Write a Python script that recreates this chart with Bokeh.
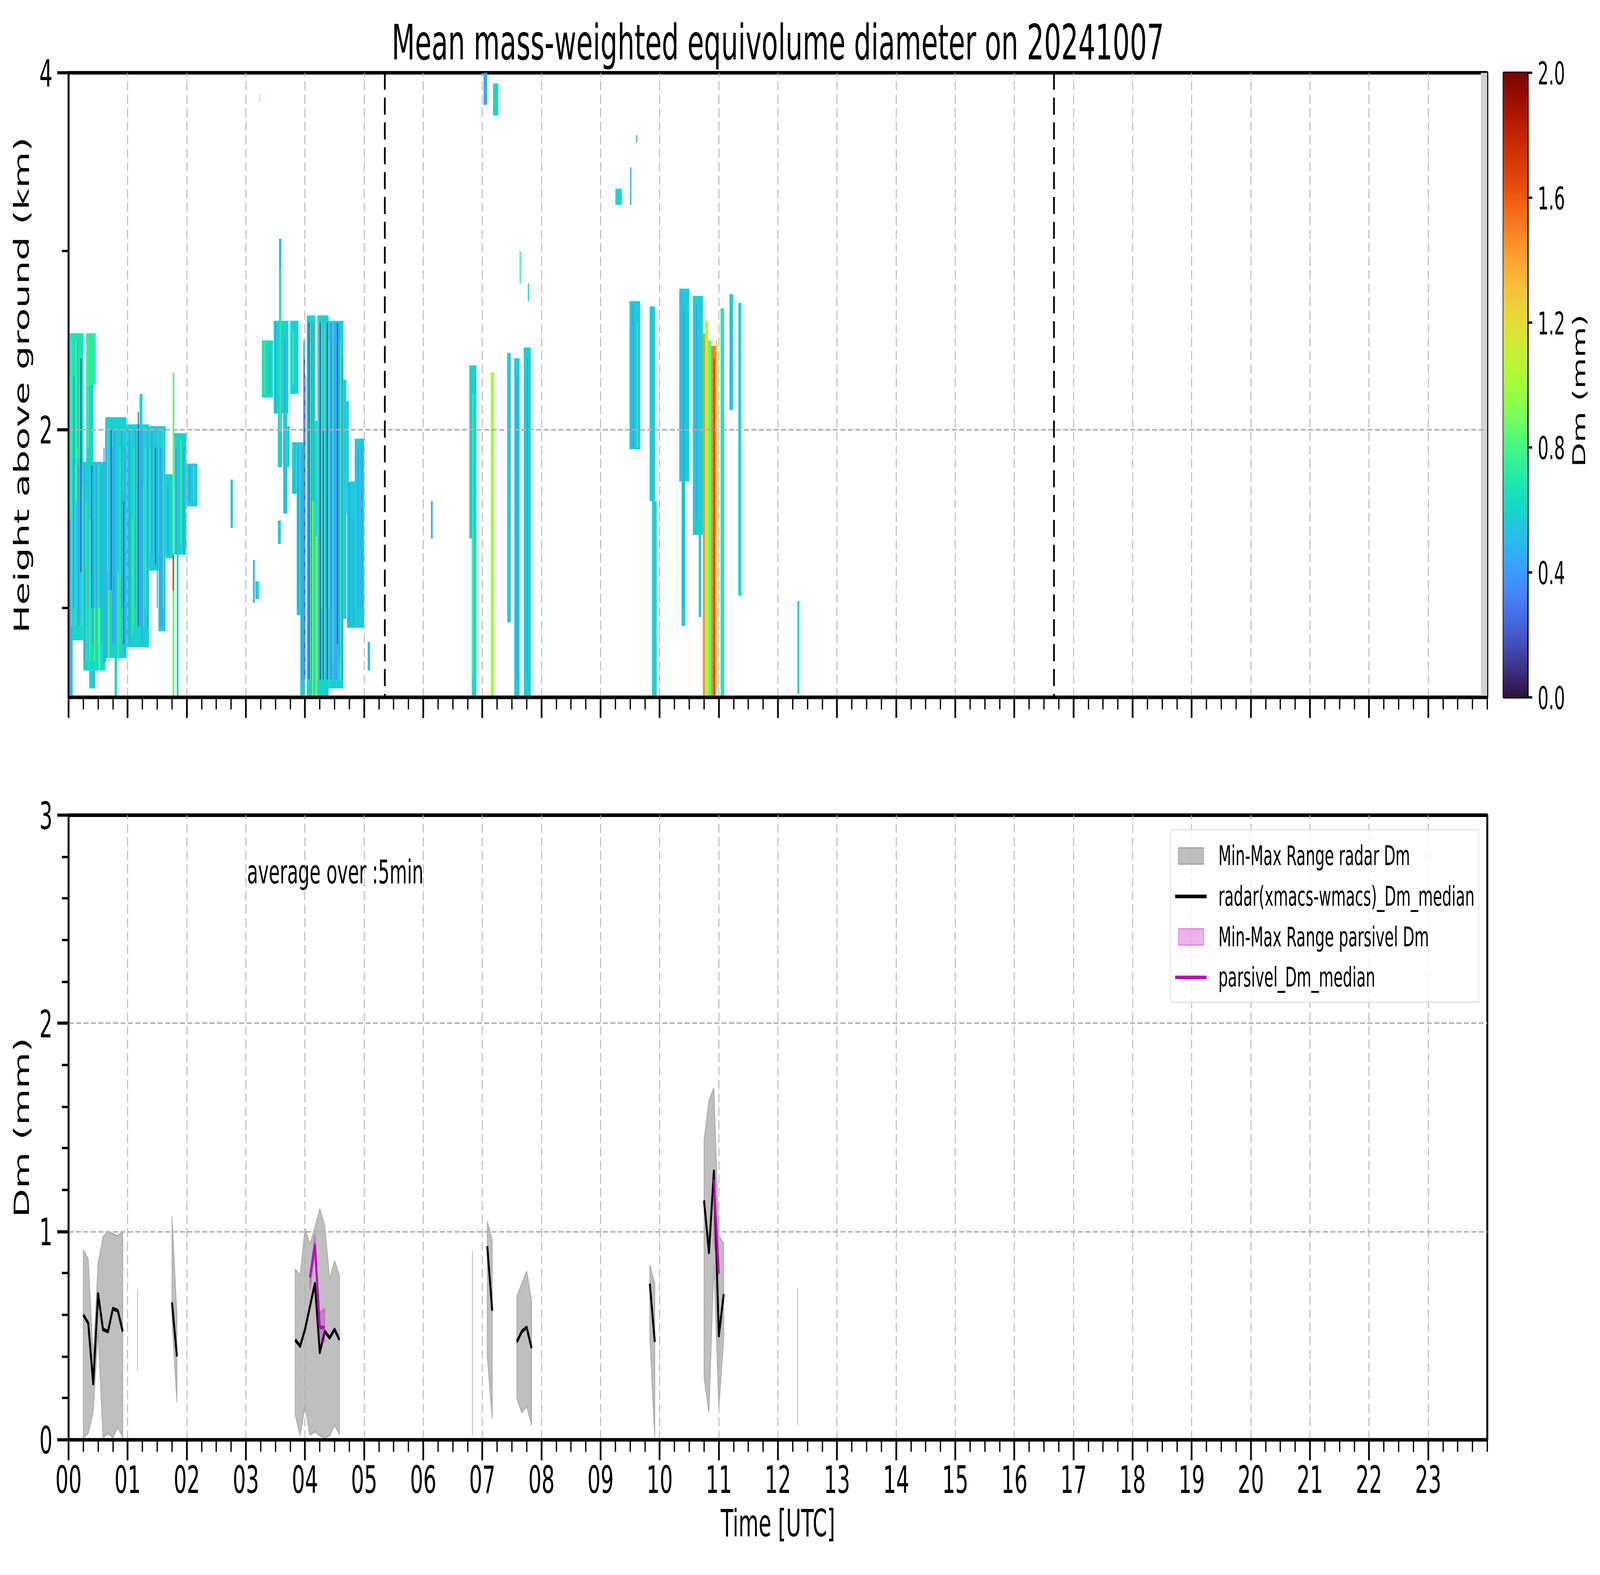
import math
import numpy as np
from bokeh.plotting import figure
from bokeh.layouts import column, row
from bokeh.models import (ColumnDataSource, FixedTicker, Span, Label, Legend,
                          LegendItem, Range1d, PrintfTickFormatter)
from bokeh.palettes import Turbo256
from bokeh.transform import linear_cmap
from bokeh.core.properties import value
from bokeh.embed import file_html
from bokeh.resources import INLINE

nan = float("nan")

# ---------------------------------------------------------------- texts
title_text = "Mean mass-weighted equivolume diameter on 20241007"
top_ylabel = "Height above ground (km)"
bottom_ylabel = "Dm (mm)"
bottom_xlabel = "Time [UTC]"
cbar_label = "Dm (mm)"
note_text = "average over :5min"
legend_labels = ["Min-Max Range radar Dm", "radar(xmacs-wmacs)_Dm_median",
                 "Min-Max Range parsivel Dm", "parsivel_Dm_median"]
hour_labels = ["00", "01", "02", "03", "04", "05", "06", "07", "08", "09", "10", "11",
               "12", "13", "14", "15", "16", "17", "18", "19", "20", "21", "22", "23"]
cbar_ticks = [0.0, 0.4, 0.8, 1.2, 1.6, 2.0]

# ---------------------------------------------------------------- top panel: radar Dm (time [h], height [km], Dm [mm])
echo_start = [0.02, 0.02, 0.02, 0.07, 0.30, 0.30, 0.25, 0.25, 0.35, 0.62, 0.78, 0.98, 1.20, 1.36, 1.52,
              1.64, 1.76, 1.79, 1.83, 1.99, 2.74,
              3.12, 3.16, 3.27, 3.47, 3.56, 3.54, 3.63, 3.54, 3.75, 3.70, 3.78, 3.86, 3.92, 3.97,
              4.03, 4.17, 4.21, 4.40, 4.65, 4.70, 4.71, 4.84, 5.06, 3.23,
              6.13, 6.78, 6.82, 7.02, 7.18, 7.14, 7.42, 7.54, 7.70, 7.63, 7.77,
              9.25, 9.50, 9.60, 9.49, 9.83, 9.87, 10.33, 10.37, 10.56, 10.66,
              10.73, 10.77, 10.82, 10.87, 10.95, 11.03, 11.18, 11.33, 12.33]
echo_end = [0.25, 0.25, 0.07, 0.25, 0.46, 0.42, 0.62, 0.62, 0.45, 0.98, 0.82, 1.36, 1.25, 1.52, 1.64,
            1.76, 1.79, 1.99, 1.86, 2.18, 2.78,
            3.15, 3.22, 3.46, 3.72, 3.60, 3.61, 3.70, 3.59, 3.89, 3.74, 3.86, 3.92, 4.00, 4.00,
            4.17, 4.21, 4.40, 4.65, 4.70, 4.74, 4.84, 5.00, 5.10, 3.24,
            6.16, 6.90, 6.90, 7.08, 7.27, 7.20, 7.48, 7.63, 7.82, 7.65, 7.79,
            9.36, 9.52, 9.62, 9.67, 9.92, 9.95, 10.50, 10.43, 10.73, 10.70,
            10.77, 10.82, 10.87, 10.95, 10.97, 11.09, 11.24, 11.38, 12.36]
echo_base = [1.84, 0.95, 0.50, 0.82, 2.25, 1.82, 1.00, 0.65, 0.55, 0.72, 0.51, 0.78, 2.03, 1.21, 0.87,
             1.28, 0.51, 1.30, 0.51, 1.57, 1.45,
             1.03, 1.05, 2.18, 2.09, 2.61, 1.79, 1.53, 1.36, 2.20, 1.79, 1.64, 0.96, 0.51, 1.93,
             0.51, 0.51, 0.51, 0.55, 0.94, 1.53, 0.89, 0.89, 0.65, 3.84,
             1.39, 1.39, 0.51, 3.82, 3.76, 0.51, 0.92, 0.51, 0.51, 2.82, 2.72,
             3.26, 3.26, 3.61, 1.89, 1.60, 0.51, 1.71, 0.90, 1.41, 0.95,
             0.51, 0.51, 0.51, 0.51, 0.55, 0.51, 2.11, 1.07, 0.52]
echo_top = [2.54, 1.84, 0.95, 0.95, 2.54, 2.25, 1.82, 1.00, 0.65, 2.07, 0.72, 2.03, 2.20, 2.02, 2.02,
            1.75, 2.32, 1.98, 1.30, 1.81, 1.72,
            1.27, 1.15, 2.50, 2.61, 3.07, 2.09, 2.09, 1.49, 2.61, 2.02, 1.93, 1.93, 1.93, 2.50,
            2.64, 2.05, 2.64, 2.61, 2.28, 2.16, 1.71, 1.95, 0.81, 3.88,
            1.60, 2.36, 1.39, 4.00, 3.94, 2.32, 2.43, 2.40, 2.46, 3.00, 2.82,
            3.35, 3.47, 3.65, 2.72, 2.69, 1.60, 2.79, 1.71, 2.75, 1.41,
            2.54, 2.61, 2.50, 2.47, 2.50, 2.68, 2.76, 2.71, 1.04]
echo_dm = [0.66, 0.58, 0.55, 0.62, 0.72, 0.62, 0.58, 0.62, 0.55, 0.58, 0.62, 0.58, 0.62, 0.56, 0.56,
           0.58, 0.85, 0.58, 0.55, 0.56, 0.58,
           0.48, 0.58, 0.62, 0.58, 0.55, 0.58, 0.55, 0.55, 0.58, 0.58, 0.55, 0.55, 0.56, 0.55,
           0.60, 0.62, 0.58, 0.58, 0.58, 0.55, 0.55, 0.56, 0.48, 0.80,
           0.48, 0.58, 0.62, 0.45, 0.62, 1.00, 0.55, 0.55, 0.58, 0.75, 0.58,
           0.62, 0.42, 0.42, 0.55, 0.55, 0.58, 0.55, 0.55, 0.58, 0.55,
           1.45, 1.05, 0.85, 1.50, 1.25, 0.68, 0.55, 0.62, 0.55]

# thin profiles standing out from the surrounding echo
streak_time = [0.05, 0.09, 0.13, 0.17, 0.21, 0.27, 0.33, 0.36, 0.41, 0.47, 0.52, 0.56, 0.63, 0.68,
               0.72, 0.78, 0.84, 0.90, 0.95, 1.03, 1.08, 1.13, 1.18, 1.24, 1.30, 1.34, 1.41, 1.47,
               1.55, 1.60, 1.68, 1.77, 1.82, 1.90, 1.95, 2.05, 2.12,
               0.03, 0.11, 0.15, 0.23, 0.30, 0.39, 0.44, 0.50, 0.60, 0.66, 0.75, 0.87, 0.93, 1.00,
               1.11, 1.21, 1.27, 1.38, 1.50, 1.58,
               3.31, 3.40, 3.50, 3.58, 3.66, 3.80, 3.88, 3.95, 3.99, 4.05, 4.09, 4.13, 4.15, 4.19,
               4.24, 4.28, 4.31, 4.36, 4.41, 4.45, 4.50, 4.55, 4.60, 4.63, 4.75, 4.82, 4.90, 4.96,
               4.01, 4.07, 4.11, 4.22, 4.26, 4.33, 4.38, 4.43, 4.48, 4.53, 4.58,
               6.84, 7.59, 7.76, 9.55, 9.62, 10.40, 10.62, 10.92]
streak_base = [0.90, 1.00, 1.60, 0.90, 1.20, 0.70, 1.90, 0.70, 0.80, 1.00, 0.65, 0.80, 0.70, 0.70,
               1.10, 0.80, 0.70, 1.00, 0.75, 0.80, 0.85, 1.00, 0.90, 0.80, 1.00, 0.90, 1.30, 1.25,
               0.90, 1.00, 1.30, 1.10, 1.30, 1.35, 1.30, 1.60, 1.60,
               0.50, 0.90, 1.90, 0.90, 0.70, 1.00, 0.70, 0.80, 0.70, 1.20, 0.80, 0.80, 0.80, 0.80,
               0.90, 0.90, 0.90, 1.30, 1.00, 0.90,
               2.20, 2.20, 2.10, 2.00, 2.10, 2.25, 1.00, 0.60, 0.60, 0.60, 0.60, 0.51, 1.60, 0.51,
               0.60, 1.00, 0.60, 0.60, 1.00, 0.60, 0.60, 0.80, 0.60, 0.60, 0.90, 0.90, 1.00, 1.00,
               0.60, 0.60, 0.60, 0.60, 0.60, 0.60, 0.60, 0.60, 0.70, 0.60, 0.70,
               0.60, 0.60, 0.60, 1.90, 1.90, 1.00, 1.50, 0.51]
streak_top = [2.50, 2.30, 2.50, 1.80, 2.40, 1.80, 2.50, 1.50, 1.80, 1.80, 1.00, 1.80, 2.00, 1.10,
              2.00, 2.00, 1.20, 2.00, 1.90, 2.00, 1.50, 2.00, 2.10, 2.00, 1.90, 2.00, 2.00, 1.90,
              1.90, 2.00, 1.70, 1.30, 1.90, 1.95, 1.90, 1.80, 1.80,
              1.50, 1.80, 2.50, 1.70, 1.60, 1.80, 1.00, 1.80, 1.90, 2.00, 1.90, 1.90, 1.60, 2.00,
              1.90, 2.00, 1.70, 1.90, 1.90, 1.90,
              2.50, 2.45, 2.60, 2.90, 2.50, 2.55, 1.90, 1.90, 2.40, 2.60, 2.60, 1.60, 2.60, 1.40,
              2.60, 2.60, 2.00, 2.60, 2.50, 2.60, 2.60, 2.60, 2.50, 2.40, 1.70, 1.50, 1.90, 1.90,
              2.30, 2.60, 2.60, 2.60, 2.60, 2.60, 2.60, 2.60, 2.60, 2.60, 2.60,
              2.20, 2.30, 2.40, 2.70, 2.60, 2.70, 2.70, 2.40]
streak_dm = [0.80, 0.35, 0.85, 0.38, 0.15, 0.38, 0.80, 0.80, 0.38, 0.38, 1.00, 0.38, 0.38, 0.90,
             0.15, 0.38, 0.85, 0.38, 0.38, 0.38, 0.80, 0.38, 0.15, 0.38, 0.80, 0.38, 0.38, 0.15,
             0.38, 0.80, 0.38, 1.80, 0.38, 0.80, 0.38, 0.38, 0.80,
             0.38, 0.75, 0.45, 0.75, 0.75, 0.15, 0.85, 0.75, 0.38, 0.75, 0.38, 0.75, 0.15, 0.38,
             0.75, 0.38, 0.75, 0.75, 0.38, 0.38,
             0.80, 0.38, 0.38, 0.80, 0.38, 0.80, 0.38, 0.38, 0.15, 0.38, 0.80, 1.00, 0.38, 1.00,
             0.38, 0.80, 0.15, 0.38, 0.80, 0.38, 0.38, 0.15, 0.80, 0.38, 0.38, 0.38, 0.38, 0.38,
             0.75, 0.15, 0.38, 0.75, 0.15, 0.75, 0.15, 0.38, 0.75, 0.38, 0.38,
             0.80, 0.38, 0.38, 0.38, 0.80, 0.38, 0.38, 1.75]

missing_start = [23.89]
missing_end = [24.0]
event_hours = [5.35, 16.67]

# ---------------------------------------------------------------- bottom panel: 5-min statistics (NaN separates runs)
radar_t = [0.25, 0.333, 0.417, 0.5, 0.583, 0.667, 0.75, 0.833, 0.917, nan,
           1.167, nan,
           1.75, 1.833, nan,
           3.833, 3.917, 4.0, 4.083, 4.167, 4.25, 4.333, 4.417, 4.5, 4.583, nan,
           6.833, nan,
           7.083, 7.167, nan,
           7.583, 7.667, 7.75, 7.833, nan,
           9.833, 9.917, nan,
           10.75, 10.833, 10.917, 11.0, 11.083, nan,
           12.333]
radar_med = [0.60, 0.56, 0.27, 0.70, 0.53, 0.52, 0.63, 0.62, 0.52, nan,
             nan, nan,
             0.66, 0.40, nan,
             0.48, 0.45, 0.53, 0.64, 0.75, 0.42, 0.52, 0.49, 0.53, 0.48, nan,
             nan, nan,
             0.93, 0.62, nan,
             0.47, 0.52, 0.54, 0.44, nan,
             0.75, 0.47, nan,
             1.15, 0.90, 1.29, 0.50, 0.70, nan,
             nan]
radar_min = [0.01, 0.03, 0.135, 0.51, 0.01, 0.03, 0.01, 0.06, 0.01, nan,
             0.33, nan,
             0.57, 0.18, nan,
             0.12, 0.02, 0.16, 0.02, 0.04, 0.02, 0.01, 0.02, 0.07, 0.025, nan,
             0.02, nan,
             0.40, 0.10, nan,
             0.20, 0.13, 0.16, 0.07, nan,
             0.49, 0.0, nan,
             0.30, 0.13, 0.84, 0.15, 0.48, nan,
             0.07]
radar_max = [0.91, 0.87, 0.40, 0.85, 0.975, 1.0, 0.99, 0.98, 1.0, nan,
             0.72, nan,
             1.075, 0.60, nan,
             0.82, 0.79, 1.015, 0.94, 1.02, 1.11, 1.03, 0.775, 0.86, 0.79, nan,
             0.91, nan,
             1.05, 0.96, nan,
             0.69, 0.75, 0.81, 0.67, nan,
             0.84, 0.75, nan,
             1.44, 1.63, 1.69, 0.98, 0.945, nan,
             0.73]

parsivel_t = [4.083, 4.167, 4.25, 4.333, nan, 10.917, 11.0]
parsivel_med = [0.78, 0.935, 0.54, 0.54, nan, 1.25, 0.80]
parsivel_min = [0.72, 0.89, 0.47, 0.47, nan, 0.95, 0.79]
parsivel_max = [0.79, 0.99, 0.61, 0.63, nan, 1.26, 0.83]

# ---------------------------------------------------------------- helpers / style
FONT = "DejaVu Sans"
GRID = "#b0b0b0"
DESIGN_W, DESIGN_H = 4096, 2219          # page size of the layout below (CSS px)
major_hours = list(range(24))
minor_hours = [h + q for h in range(24) for q in (0.25, 0.5, 0.75)] + [24.0]


def run_polygons(t, lo, hi):
    xs, ys, cur = [], [], []
    for ti, a, b in list(zip(t, lo, hi)) + [(nan, nan, nan)]:
        if math.isnan(ti):
            if cur:
                tt = [c[0] for c in cur]
                xs.append(tt + tt[::-1])
                ys.append([c[2] for c in cur] + [c[1] for c in cur][::-1])
            cur = []
        else:
            cur.append((ti, a, b))
    return xs, ys


def style(p):
    for ax in list(p.xaxis) + list(p.yaxis):
        ax.axis_line_width = 4.4
        ax.axis_line_color = "black"
        ax.major_tick_line_width = 4.4
        ax.minor_tick_line_width = 3.3
        ax.major_tick_out = 29
        ax.major_tick_in = 0
        ax.minor_tick_out = 17
        ax.minor_tick_in = 0
        ax.major_label_text_font = FONT
        ax.major_label_text_font_size = "53px"
        ax.major_label_text_color = "black"
        ax.major_label_standoff = 12
        ax.axis_label_text_font = FONT
        ax.axis_label_text_font_size = "53px"
        ax.axis_label_text_font_style = "normal"
        ax.axis_label_text_color = "black"
        ax.axis_label_standoff = 12
    p.outline_line_color = "black"
    p.outline_line_width = 5
    p.outline_line_alpha = 1.0
    for g in list(p.xgrid) + list(p.ygrid):
        g.grid_line_color = GRID
        g.grid_line_width = 2.2
        g.grid_line_dash = "13 6"
        g.level = "underlay"


# ---------------------------------------------------------------- top figure
top = figure(width=3817, height=1065, x_range=Range1d(0, 24), y_range=Range1d(0.5, 4.0),
             output_backend="svg", toolbar_location=None, title=title_text,
             min_border_left=175, min_border_right=10, min_border_top=102, min_border_bottom=83)
top.title.align = "center"
top.title.text_font = FONT
top.title.text_font_size = "69px"
top.title.text_font_style = "normal"
top.title.text_color = "black"
top.title.standoff = 6

cmap = linear_cmap("dm", Turbo256, 0.0, 2.0)
echo_src = ColumnDataSource(dict(l=echo_start, r=echo_end, b=echo_base, t=echo_top, dm=echo_dm))
top.quad(left="l", right="r", bottom="b", top="t", source=echo_src,
         fill_color=cmap, line_color=None, level="image")
half = 0.008
streak_src = ColumnDataSource(dict(l=[s - half for s in streak_time], r=[s + half for s in streak_time],
                                   b=streak_base, t=streak_top, dm=streak_dm))
top.quad(left="l", right="r", bottom="b", top="t", source=streak_src,
         fill_color=cmap, line_color=None, level="image")
top.quad(left=missing_start, right=missing_end, bottom=[0.5], top=[4.0],
         fill_color="#d3d3d3", line_color=None, level="image")
for h in event_hours:
    top.add_layout(Span(location=h, dimension="height", line_color="black",
                        line_width=4.4, line_dash="24 11"))

top.xaxis.ticker = FixedTicker(ticks=major_hours, minor_ticks=minor_hours)
top.xaxis.major_label_overrides = {h: "" for h in major_hours}
top.yaxis.ticker = FixedTicker(ticks=[2, 4], minor_ticks=[1, 3])
top.yaxis.axis_label = top_ylabel
style(top)
top.xaxis.major_label_text_font_size = "1px"

# ---------------------------------------------------------------- colour bar
cb = figure(width=199, height=1065, x_range=Range1d(0, 1), y_range=Range1d(0, 2),
            output_backend="svg", toolbar_location=None,
            x_axis_location=None, y_axis_location="right",
            min_border_left=31, min_border_right=105, min_border_top=102, min_border_bottom=83)
levels = np.linspace(0.0, 2.0, len(Turbo256) + 1)
cb.quad(left=0, right=1, bottom=levels[:-1], top=levels[1:],
        fill_color=list(Turbo256), line_color=list(Turbo256), line_width=1)
cb.yaxis.ticker = FixedTicker(ticks=cbar_ticks, minor_ticks=[])
cb.yaxis.formatter = PrintfTickFormatter(format="%.1f")
cb.grid.visible = False
cb.outline_line_color = "black"
cb.outline_line_width = 3.3
cb.yaxis.axis_line_color = "black"
cb.yaxis.axis_line_width = 3.3
cb.yaxis.major_tick_out = 11
cb.yaxis.major_tick_in = 0
cb.yaxis.major_tick_line_width = 3.3
cb.yaxis.minor_tick_line_color = None
cb.yaxis.major_label_text_font = FONT
cb.yaxis.major_label_text_font_size = "44px"
cb.yaxis.major_label_text_color = "black"
cb.yaxis.major_label_standoff = 14

lab = figure(width=80, height=1065, x_range=Range1d(0, 80), y_range=Range1d(0, 1065),
             output_backend="svg", toolbar_location=None, min_border=0,
             x_axis_location=None, y_axis_location=None)
lab.outline_line_color = None
lab.grid.visible = False
lab.text(x=[26], y=[523], text=[cbar_label], angle=math.pi / 2,
         text_align="center", text_baseline="middle",
         text_font=value(FONT), text_font_size=value("45px"), text_color="black")

# ---------------------------------------------------------------- bottom figure
bot = figure(width=4096, height=1154, x_range=Range1d(0, 24), y_range=Range1d(0, 3),
             output_backend="svg", toolbar_location=None,
             min_border_left=175, min_border_right=289, min_border_top=83, min_border_bottom=191)

rx, ry = run_polygons(radar_t, radar_min, radar_max)
r_fill = bot.patches(xs=rx, ys=ry, fill_color="gray", fill_alpha=0.5,
                     line_color="gray", line_alpha=0.5, line_width=2.2, level="image")
r_line = bot.line(x=radar_t, y=radar_med, line_color="black", line_width=5,
                  line_join="round", line_cap="butt")
px, py = run_polygons(parsivel_t, parsivel_min, parsivel_max)
p_fill = bot.patches(xs=px, ys=py, fill_color="#bf00bf", fill_alpha=0.3,
                     line_color="#bf00bf", line_alpha=0.3, line_width=2.2)
p_line = bot.line(x=parsivel_t, y=parsivel_med, line_color="#bf00bf", line_width=5,
                  line_join="round", line_cap="butt")

bot.xaxis.ticker = FixedTicker(ticks=major_hours, minor_ticks=minor_hours)
bot.xaxis.major_label_overrides = dict(zip(major_hours, hour_labels))
bot.xaxis.axis_label = bottom_xlabel
bot.yaxis.ticker = FixedTicker(ticks=[0, 1, 2, 3],
                               minor_ticks=[0.2, 0.4, 0.6, 0.8, 1.2, 1.4, 1.6, 1.8, 2.2, 2.4, 2.6, 2.8])
bot.yaxis.axis_label = bottom_ylabel
style(bot)
bot.xaxis.major_label_standoff = 7
bot.xaxis.axis_label_standoff = 9

bot.add_layout(Label(x=3.02, y=2.727, text=note_text, text_font=FONT, text_font_size="46px",
                     text_align="left", text_baseline="alphabetic", text_color="black"))

legend = Legend(items=[LegendItem(label=legend_labels[0], renderers=[r_fill]),
                       LegendItem(label=legend_labels[1], renderers=[r_line]),
                       LegendItem(label=legend_labels[2], renderers=[p_fill]),
                       LegendItem(label=legend_labels[3], renderers=[p_line])],
                location="top_right")
legend.label_text_font = FONT
legend.label_text_font_size = "38.5px"
legend.label_text_color = "black"
legend.glyph_width = 81
legend.glyph_height = 29
legend.label_height = 50
legend.label_standoff = 30
legend.spacing = 7
legend.padding = 10
legend.margin = 20
legend.border_line_color = "#cccccc"
legend.border_line_width = 2.8
legend.background_fill_color = "white"
legend.background_fill_alpha = 0.8
bot.add_layout(legend)

layout = column(row(top, cb, lab), bot)
html = file_html(layout, INLINE)

# The layout is drawn at DESIGN_W x DESIGN_H (same proportions as the 7442x4031 target);
# once Bokeh has drawn it, it is scaled to fill the window the page actually gets.
fit_css = "<style>html { overflow: hidden; } html, body { margin: 0; padding: 0; }</style>"
fit_js = """<script>
(function () {
  var W = %d, H = %d, tries = 0;
  function fit() {
    var sx = window.innerWidth / W;
    var sy = window.innerHeight / H;
    if (Math.abs(sx - 1) > 0.002 || Math.abs(sy - 1) > 0.002) {
      document.body.style.transformOrigin = "0 0";
      document.body.style.transform = "scale(" + sx + "," + sy + ")";
    }
  }
  function wait() {
    tries += 1;
    var B = window.Bokeh;
    var ready = false;
    try {
      ready = !!(B && B.documents && B.documents.length > 0 && B.documents[0].is_idle);
    } catch (e) { ready = false; }
    if (ready || tries > 400) {
      requestAnimationFrame(function () { requestAnimationFrame(fit); });
    } else {
      setTimeout(wait, 10);
    }
  }
  wait();
})();
</script>""" % (DESIGN_W, DESIGN_H)
html = html.replace("</head>", fit_css + "</head>", 1)
html = html.replace("</body>", fit_js + "</body>", 1)
open("out.html", "w").write(html)
